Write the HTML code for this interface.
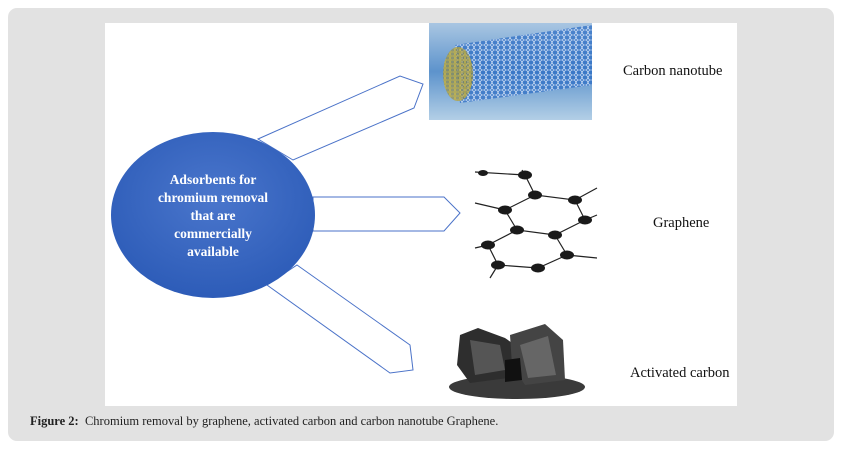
<!DOCTYPE html>
<html><head><style>
body{margin:0;width:842px;height:449px;background:#fff;position:relative;overflow:hidden;font-family:"Liberation Serif",serif}
.card{position:absolute;left:8px;top:8px;width:826px;height:433px;background:#e2e2e2;border-radius:9px}
.white{position:absolute;left:105px;top:23px;width:632px;height:383px;background:#fff}
.cap{position:absolute;left:30px;top:414px;font-size:12.5px;color:#222}
.lbl{position:absolute;font-size:14.5px;color:#111}
</style></head><body>
<div class="card"></div>
<div class="white"></div>
<svg width="842" height="449" style="position:absolute;left:0;top:0">
<defs>
<radialGradient id="eg" cx="50%" cy="40%" r="60%"><stop offset="0" stop-color="#4a76cc"/><stop offset="1" stop-color="#2d5cb8"/></radialGradient>
<linearGradient id="tb" x1="0" y1="0" x2="0" y2="1"><stop offset="0" stop-color="#a9c6e2"/><stop offset="0.5" stop-color="#5d93cc"/><stop offset="1" stop-color="#b3cfe6"/></linearGradient>
<pattern id="hex" width="6" height="5" patternUnits="userSpaceOnUse"><path d="M0 2.5 L1.5 0 L4.5 0 L6 2.5 L4.5 5 L1.5 5Z" fill="none" stroke="#eef4ff" stroke-width="0.6"/></pattern>
<pattern id="hexy" width="5" height="4" patternUnits="userSpaceOnUse"><path d="M0 2 L1.2 0 L3.8 0 L5 2 L3.8 4 L1.2 4Z" fill="none" stroke="#d8c040" stroke-width="0.6"/></pattern>
</defs>
<g fill="#fff" stroke="#4a72c8" stroke-width="1">
<polygon points="258,139 400,76 423,84 414,108 293,160"/>
<polygon points="313,197 444,197 460,213 444,231 313,231"/>
<polygon points="297,265 410,345 413,370 390,373 267,285"/>
</g>
<ellipse cx="213" cy="215" rx="102" ry="83" fill="url(#eg)"/>
<g fill="#fff" font-family="Liberation Serif,serif" font-weight="bold" font-size="13.5" text-anchor="middle">
<text x="213" y="184">Adsorbents for</text>
<text x="213" y="202">chromium removal</text>
<text x="213" y="220">that are</text>
<text x="213" y="238">commercially</text>
<text x="213" y="256">available</text>
</g>
<rect x="429" y="23" width="163" height="97" fill="url(#tb)"/>
<path d="M455 45 L592 25 L592 85 L460 103 Z" fill="#2f6fc4" opacity="0.75"/>
<path d="M455 45 L592 25 L592 85 L460 103 Z" fill="url(#hex)"/>
<ellipse cx="458" cy="74" rx="15" ry="27" fill="#9a8a30" opacity="0.6"/>
<ellipse cx="458" cy="74" rx="15" ry="27" fill="url(#hexy)"/>
<g stroke="#222" stroke-width="1.2" fill="none">
<path d="M475 172 L525 175 L535 195 L575 200 L585 220 L597 215 M535 195 L505 210 L517 230 L555 235 L585 220 M555 235 L567 255 L597 258 M517 230 L488 245 L498 265 L538 268 L567 255 M505 210 L475 203 M488 245 L475 248 M498 265 L490 278 M575 200 L597 188 M525 175 L522 170"/>
</g>
<g fill="#1a1a1a">
<ellipse cx="525" cy="175" rx="7" ry="4.5"/><ellipse cx="535" cy="195" rx="7" ry="4.5"/><ellipse cx="575" cy="200" rx="7" ry="4.5"/><ellipse cx="585" cy="220" rx="7" ry="4.5"/><ellipse cx="505" cy="210" rx="7" ry="4.5"/><ellipse cx="517" cy="230" rx="7" ry="4.5"/><ellipse cx="555" cy="235" rx="7" ry="4.5"/><ellipse cx="567" cy="255" rx="7" ry="4.5"/><ellipse cx="488" cy="245" rx="7" ry="4.5"/><ellipse cx="498" cy="265" rx="7" ry="4.5"/><ellipse cx="538" cy="268" rx="7" ry="4.5"/><ellipse cx="483" cy="173" rx="5" ry="3"/>
</g>
<ellipse cx="517" cy="387" rx="68" ry="12" fill="#3a3a3a"/>
<polygon points="460,335 478,328 505,338 515,345 508,378 470,383 457,365" fill="#2e2e2e"/>
<polygon points="470,340 500,345 505,370 475,375" fill="#555"/>
<polygon points="510,335 545,324 563,340 565,380 525,385 512,365" fill="#444"/>
<polygon points="520,345 548,336 556,375 528,378" fill="#666"/>
<polygon points="505,360 520,358 522,380 505,382" fill="#111"/>
</svg>
<div class="lbl" style="left:623px;top:63px">Carbon nanotube</div>
<div class="lbl" style="left:653px;top:215px">Graphene</div>
<div class="lbl" style="left:630px;top:365px">Activated carbon</div>
<div class="cap"><b>Figure 2:</b>&nbsp; Chromium removal by graphene, activated carbon and carbon nanotube Graphene.</div>
</body></html>
